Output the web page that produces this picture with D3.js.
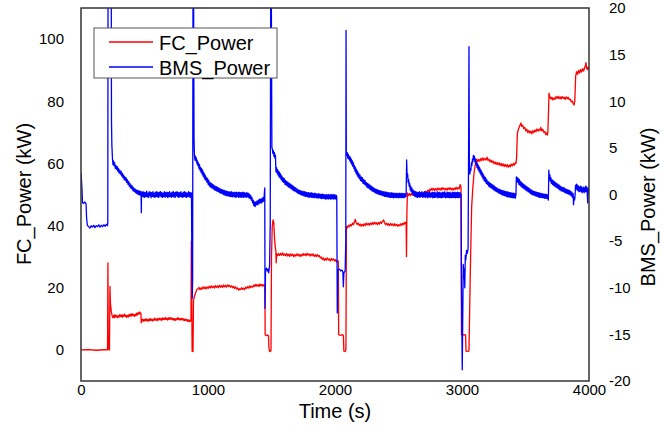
<!DOCTYPE html>
<html><head><meta charset="utf-8">
<script src="https://cdn.jsdelivr.net/npm/d3@7"></script>
<style>body{margin:0;background:#fff}svg{display:block;font-family:Arial,"Liberation Sans",sans-serif}</style>
</head><body><svg id="c" width="665" height="430"></svg>
<script>
const xTicks=[0,1000,2000,3000,4000];
const fcTicks=[0,20,40,60,80,100];
const bmsTicks=[-20,-15,-10,-5,0,5,10,15,20];
const seriesNames=["FC_Power","BMS_Power"];
const seriesColors=["#ff0000","#0000ff"];

// FC_Power [time s, kW]
const fcData=[[0,0],[60,0.1],[120,-0.1],[180,0.05],[209,0],[212,28],[215,0.2],[224,0],[228,20.4],[232,15],[238,12.5],[245,11],
[252,10.3],[258,11.2],[264,10.4],[270,11.3],[276,10.6],[282,11.1],[288,10.3],[294,11.0],[300,10.6],[306,11.4],[312,10.7],[318,11.2],[324,10.5],[330,11.3],[336,10.8],[342,11.5],[348,10.7],[354,11.2],[360,10.5],[366,11.1],[372,10.6],[378,11.4],[384,10.8],[390,11.5],[396,10.9],[402,11.7],[408,11.0],[414,11.4],[420,10.8],[426,11.5],[432,11.0],[438,11.8],[444,11.2],[450,12.0],[456,11.5],[462,12.2],[468,11.6],[472,11.8],[474,8.7],
[478,9.4],[484,9.9],[490,9.2],[496,9.8],[502,9.3],[508,10.0],[514,9.4],[520,9.9],[526,9.2],[532,9.8],[538,9.4],[544,10.1],[550,9.5],[556,9.9],[562,9.3],[568,9.9],[574,9.5],[580,10.2],[586,9.6],[592,10.0],[598,9.4],[604,10.1],[610,9.6],[616,10.2],[622,9.7],[628,10.1],[634,9.5],[640,10.3],[646,9.7],[652,10.2],[658,9.8],[664,10.4],[670,9.8],[676,10.2],[682,9.6],[688,10.3],[694,9.8],[700,10.4],[706,9.9],[712,10.3],[718,9.7],[724,10.2],[730,9.6],[736,10.1],[742,9.5],[748,10.0],[754,9.7],[760,10.4],[766,9.8],[772,10.2],[778,9.6],[784,10.1],[790,9.7],[796,10.2],[802,9.6],[808,10.0],[814,9.4],[820,9.9],[826,9.5],[832,9.8],[838,9.2],[844,9.7],[850,9.1],[856,9.6],[862,9.2],[866,9.6],
[869,35],[872,17],[875,-0.4],[882,-0.5],[886,16],[895,17.5],[905,18.6],[913,19.5],
[921,19.6],[929,20.1],[937,19.4],[945,20.0],[953,19.5],[961,20.3],[969,19.7],[977,20.2],[985,19.6],[993,20.3],[1001,19.8],[1009,20.5],[1017,19.9],[1025,20.6],[1033,20.0],[1041,20.5],[1049,19.9],[1057,20.7],[1065,20.1],[1073,20.6],[1081,20.0],[1089,20.8],[1097,20.2],[1105,20.7],[1113,20.1],[1121,20.9],[1129,20.3],[1137,20.8],[1145,20.2],[1153,20.9],[1161,20.4],[1169,20.8],[1177,20.2],[1185,20.6],[1193,20.0],[1201,20.5],[1209,19.8],[1217,20.3],[1225,19.6],[1233,19.9],[1241,19.2],[1249,19.7],[1257,19.4],[1265,20.0],[1273,19.5],[1281,19.9],[1289,19.4],[1297,20.2],[1305,19.8],[1313,20.4],[1321,19.9],[1329,20.6],[1337,20.0],[1345,20.5],[1353,20.2],[1361,20.9],[1369,20.4],[1377,21.1],[1385,20.5],[1393,21.0],[1401,20.4],[1409,21.2],[1417,20.6],[1425,21.1],[1433,20.5],[1441,21.0],[1448,20.7],
[1450,4.8],[1460,4.6],[1470,4.8],[1476,4.5],[1480,0.5],[1486,-0.5],[1496,-0.3],[1500,30],[1506,40],[1512,41.8],[1518,41],[1524,36],[1530,33],[1534,32],[1537,28],
[1540,31],[1548,30.3],[1556,31.0],[1564,30.4],[1572,31.1],[1580,30.5],[1588,31.2],[1596,30.4],[1604,30.9],[1612,30.3],[1620,31.0],[1628,30.2],[1636,30.8],[1644,30.1],[1652,30.9],[1660,30.3],[1668,30.8],[1676,30.0],[1684,30.7],[1692,30.2],[1700,30.9],[1708,30.3],[1716,30.8],[1724,30.1],[1732,30.7],[1740,30.2],[1748,31.0],[1756,30.4],[1764,30.9],[1772,30.3],[1780,31.1],[1788,30.5],[1796,30.9],[1804,30.2],[1812,30.8],[1820,30.3],[1828,30.9],[1836,30.1],[1844,30.6],[1852,30.0],[1860,30.7],[1868,30.1],[1876,30.4],[1884,29.6],[1892,29.9],[1900,29.1],[1908,29.6],[1916,28.8],[1924,29.4],[1932,28.9],[1940,29.6],[1948,28.9],[1956,29.3],[1964,28.6],[1972,29.4],[1980,28.9],[1988,29.3],[1996,28.6],[2004,29.0],[2012,28.3],[2020,28.8],[2026,28.4],
[2029,4.9],[2045,4.7],[2060,4.9],[2066,4.7],[2070,-0.4],[2080,-0.5],[2086,0],
[2090,39.7],[2098,39.3],[2106,40.1],[2114,39.6],[2122,40.4],[2130,39.9],[2138,40.8],[2146,40.3],[2154,41.3],[2160,42.0],[2166,41.0],[2174,40.4],[2182,40.8],[2190,40.0],[2198,40.5],[2206,39.8],[2214,40.4],[2222,39.9],[2230,40.6],[2238,40.0],[2246,40.8],[2254,40.2],[2262,40.7],[2270,40.1],[2278,40.8],[2286,40.3],[2294,41.0],[2302,40.4],[2310,41.1],[2318,40.5],[2326,40.9],[2334,40.3],[2342,41.0],[2350,40.5],[2358,41.2],[2366,40.7],[2374,41.3],[2383,41.8],[2390,40.9],[2398,40.3],[2406,40.8],[2414,40.1],[2422,40.6],[2430,40.0],[2438,40.7],[2446,40.1],[2454,40.5],[2462,39.9],[2470,40.6],[2478,40.0],[2486,40.4],[2494,39.8],[2502,40.3],[2510,39.9],[2518,40.6],[2526,40.1],[2534,40.8],[2542,40.3],[2550,41.1],[2556,40.6],[2560,41.0],
[2563,30],[2566,44],
[2570,50.5],[2578,49.6],[2586,50.3],[2594,49.7],[2602,50.4],[2610,49.8],[2618,50.5],[2626,49.9],[2634,50.3],[2642,49.7],[2650,50.4],[2658,49.9],[2666,50.6],[2674,50.0],[2682,50.5],[2690,50.0],[2698,50.7],[2706,50.3],[2714,51.0],[2722,50.6],[2730,51.4],[2738,51.0],[2746,51.7],[2754,51.3],[2762,52.0],[2770,51.4],[2778,52.0],[2786,51.3],[2794,51.9],[2802,51.4],[2810,52.1],[2818,51.5],[2826,52.0],[2834,51.4],[2842,52.2],[2850,51.6],[2858,52.1],[2866,51.5],[2874,52.0],[2882,51.4],[2890,52.1],[2898,51.6],[2906,52.2],[2914,51.5],[2922,52.0],[2930,51.4],[2938,52.1],[2946,51.6],[2954,52.3],[2962,51.7],[2970,52.2],[2978,51.8],[2985,53.2],[2992,52.5],
[2996,4.8],[3015,4.9],[3028,4.8],[3032,-0.4],[3045,-0.5],[3055,-0.3],[3060,12],[3066,26],[3076,46],[3085,52],[3095,57],
[3108,60.6],[3116,61.4],[3124,60.5],[3132,61.3],[3140,60.7],[3148,61.6],[3156,60.9],[3164,61.8],[3172,61.0],[3180,61.6],[3188,61.1],[3197,62.0],[3204,61.0],[3212,61.4],[3220,60.5],[3228,61.1],[3236,60.3],[3244,60.8],[3252,59.9],[3260,60.5],[3268,59.7],[3276,60.3],[3284,59.6],[3292,60.2],[3300,59.3],[3308,60.0],[3316,59.2],[3324,59.9],[3332,59.0],[3340,59.7],[3348,58.9],[3356,59.6],[3364,58.8],[3372,59.5],[3380,58.9],[3388,59.8],[3396,59.2],[3404,60.0],[3412,59.4],[3420,60.2],[3425,60.0],
[3430,62],[3436,69.7],[3444,71.0],[3452,71.8],[3460,72.6],[3464,73.0],[3470,71.9],[3478,72.3],[3486,71.2],[3494,71.6],[3502,70.5],[3510,71.0],[3518,69.9],[3526,70.6],[3534,69.8],[3542,70.4],[3550,69.5],[3558,70.5],[3566,69.9],[3574,70.8],[3582,70.2],[3590,71.1],[3598,70.4],[3606,71.0],[3614,70.6],[3620,71.6],[3628,70.5],[3636,71.0],[3644,70.0],[3652,70.3],[3660,69.3],[3666,69.8],[3672,69.1],[3676,70.0],
[3680,75],[3685,82.6],[3692,81.4],[3700,80.7],[3708,81.3],[3716,80.4],[3724,81.1],[3732,80.6],[3740,81.5],[3748,80.9],[3756,81.6],[3764,80.8],[3772,81.4],[3780,80.7],[3788,81.5],[3796,80.9],[3804,81.3],[3812,80.6],[3820,81.4],[3828,80.8],[3836,81.3],[3844,80.5],[3852,80.7],[3860,79.8],[3868,80.1],[3876,79.2],[3882,78.8],[3888,80],
[3895,88],[3902,89.5],[3910,88.7],[3918,89.9],[3926,89.1],[3934,90.2],[3942,89.4],[3950,90.5],[3958,89.7],[3966,90.8],[3972,91.5],[3976,92.4],[3980,90.9],[3986,90.2],[3992,91.0],[4000,90.2]];

// BMS_Power [time s, kW]
const bmsData=[[0,2.3],[4,1.5],[8,0.5],[12,-0.9],[20,-0.95],[30,-0.8],[40,-1.0],[44,-2.5],[50,-3.3],[60,-3.45],[70,-3.6],[80,-3.35],[90,-3.5],[100,-3.3],[110,-3.55],[120,-3.35],[130,-3.45],[140,-3.25],[150,-3.5],[160,-3.3],[170,-3.45],[180,-3.25],[190,-3.4],[200,-3.2],[208,-3.35],[211,-3.0],[213,24],[238,24],
[240,8.0],[243,5.3],[248,3.8],[252,3.2],[256,3.6],[260,3.1],[265,3.4],[270,2.8],[275,3.1],[280,2.7],[285,3.0],[290,2.5],[295,2.8],[300,2.3],[305,2.6],[310,2.2],[315,2.5],[320,2.0],[325,2.3],[330,1.8],[335,2.1],[340,1.6],[345,1.9],[350,1.5],[355,1.8],[360,1.3],[365,1.6],[370,1.1],[375,1.4],[380,0.9],[385,1.2],[390,0.7],[395,1.0],[400,0.6],[405,0.9],[410,0.4],[415,0.7],[420,0.3],[425,0.6],[430,0.2],[435,0.5],[440,0.1],[445,0.45],[450,0.0],[455,0.4],[460,-0.05],[465,0.35],[470,-0.1],[473,0.3],[475,-1.95],
[477,0.2],[482,-0.2],[487,0.3],[492,-0.25],[497,0.25],[502,-0.3],[507,0.2],[512,-0.2],[517,0.35],[522,-0.25],[527,0.15],[532,-0.3],[537,0.3],[542,-0.15],[547,0.25],[552,-0.35],[557,0.2],[562,-0.2],[567,0.3],[572,-0.25],[577,0.15],[582,-0.3],[587,0.25],[592,-0.2],[597,0.3],[602,-0.25],[607,0.2],[612,-0.3],[617,0.25],[622,-0.15],[627,0.3],[632,-0.25],[637,0.2],[642,-0.3],[647,0.15],[652,-0.2],[657,0.3],[662,-0.3],[667,0.2],[672,-0.2],[677,0.25],[682,-0.3],[687,0.2],[692,-0.25],[697,0.3],[702,-0.2],[707,0.15],[712,-0.3],[717,0.25],[722,-0.2],[727,0.3],[732,-0.25],[737,0.2],[742,-0.3],[747,0.25],[752,-0.15],[757,0.3],[762,-0.25],[767,0.2],[772,-0.3],[777,0.2],[782,-0.2],[787,0.3],[792,-0.25],[797,0.15],[802,-0.3],[807,0.25],[812,-0.2],[817,0.3],[822,-0.25],[827,0.2],[832,-0.3],[837,0.15],[842,-0.2],[847,0.3],[852,-0.25],[857,0.2],[862,-0.3],[867,0.2],[870,0.1],
[872,-5],[876,-11.1],[879,-9],[882,24],[886,24],[890,6],
[893,4.3],[897,3.7],[901,4.1],[905,3.6],[909,3.9],[913,3.3],[917,3.6],[921,3.1],[925,3.4],[929,2.8],[933,3.2],[937,2.6],[941,2.9],[945,2.4],[949,2.8],[953,2.2],[957,2.6],[961,2.0],[965,2.4],[969,1.8],[973,2.2],[977,1.6],[981,2.0],[985,1.5],[989,1.8],[993,1.3],[997,1.7],[1001,1.1],[1006,1.5],[1011,0.9],[1016,1.3],[1021,0.8],[1026,1.2],[1031,0.7],[1036,1.1],[1041,0.6],[1046,1.0],[1051,0.5],[1056,0.9],[1061,0.45],[1066,0.85],[1071,0.35],[1076,0.75],[1081,0.3],[1086,0.7],[1091,0.2],[1096,0.6],[1101,0.15],[1106,0.55],[1111,0.1],[1116,0.5],[1121,0.0],[1126,0.45],[1131,-0.05],[1136,0.4],[1141,-0.1],[1146,0.35],[1151,-0.15],[1156,0.3],[1161,-0.15],[1166,0.3],[1171,-0.2],[1176,0.25],[1181,-0.2],[1186,0.3],[1191,-0.25],[1196,0.2],[1201,-0.2],[1206,0.25],[1211,-0.25],[1216,0.2],[1221,-0.3],[1226,0.25],[1231,-0.2],[1236,0.2],[1241,-0.3],[1246,0.25],[1251,-0.25],[1256,0.2],[1261,-0.3],[1266,0.2],[1271,-0.25],[1276,0.25],[1281,-0.3],[1286,0.2],[1291,-0.25],[1296,0.15],[1301,-0.3],[1306,0.2],[1311,-0.25],[1316,0.15],[1321,-0.35],[1326,0.05],[1331,-0.45],[1336,-0.1],[1341,-0.6],[1346,-0.3],[1351,-0.9],[1356,-0.6],[1361,-1.2],[1366,-0.8],[1371,-1.3],[1376,-0.8],[1381,-1.1],[1386,-0.7],[1391,-1.1],[1396,-0.6],[1401,-1.0],[1406,-0.5],[1411,-0.9],[1416,-0.5],[1421,-0.9],[1426,-0.4],[1431,-0.8],[1436,-0.3],[1441,-0.7],[1444,0.2],[1447,0.7],
[1449,-12.2],[1453,-8.1],[1460,-7.9],[1467,-8.2],[1472,-8.0],[1478,-8.4],[1485,-7.6],[1490,-3],[1494,24],[1498,24],
[1503,5],[1507,4.9],[1511,4.4],[1515,4.7],[1519,4.1],[1523,4.5],[1527,3.9],[1531,4.2],[1535,2.45],[1539,2.9],[1543,2.3],[1547,2.7],[1551,2.1],[1555,2.5],[1559,1.9],[1563,2.4],[1567,1.8],[1571,2.2],[1576,1.6],[1581,2.0],[1586,1.4],[1591,1.8],[1596,1.3],[1601,1.7],[1606,1.1],[1611,1.5],[1616,1.0],[1621,1.4],[1626,0.9],[1631,1.3],[1636,0.8],[1641,1.2],[1646,0.7],[1651,1.1],[1656,0.6],[1661,1.0],[1666,0.5],[1671,0.9],[1676,0.4],[1681,0.8],[1686,0.35],[1691,0.7],[1696,0.25],[1701,0.6],[1706,0.15],[1711,0.5],[1716,0.1],[1721,0.45],[1726,0.0],[1731,0.4],[1736,-0.05],[1741,0.35],[1746,-0.1],[1751,0.3],[1756,-0.15],[1761,0.3],[1766,-0.2],[1771,0.25],[1776,-0.2],[1781,0.2],[1786,-0.25],[1791,0.2],[1796,-0.3],[1801,0.15],[1806,-0.25],[1811,0.2],[1816,-0.3],[1821,0.15],[1826,-0.3],[1831,0.1],[1836,-0.35],[1841,0.15],[1846,-0.3],[1851,0.1],[1856,-0.35],[1861,0.05],[1866,-0.4],[1871,0.1],[1876,-0.35],[1881,0.05],[1886,-0.4],[1891,0.0],[1896,-0.45],[1901,0.05],[1906,-0.4],[1911,0.0],[1916,-0.45],[1921,-0.05],[1926,-0.5],[1931,0.0],[1936,-0.45],[1941,-0.05],[1946,-0.5],[1951,0.0],[1956,-0.45],[1961,-0.05],[1966,-0.5],[1971,0.0],[1976,-0.45],[1981,-0.05],[1986,-0.5],[1991,0.0],[1996,-0.45],[2001,-0.05],[2006,-0.5],[2011,-0.1],[2014,-0.3],
[2018,-12.7],[2022,-8.1],[2035,-8.0],[2045,-8.2],[2055,-8.1],[2062,-8.3],[2066,-9.9],[2070,-8.4],[2080,-8.2],[2085,-5],[2087,17.6],
[2089,4.6],[2093,4.2],[2097,4.5],[2101,3.9],[2105,4.3],[2109,3.8],[2113,4.1],[2117,3.6],[2121,4.0],[2125,3.4],[2129,3.8],[2133,3.2],[2137,3.6],[2141,3.0],[2145,3.4],[2149,2.8],[2153,3.1],[2157,2.5],[2161,2.9],[2165,2.3],[2169,2.7],[2173,2.1],[2177,2.5],[2181,1.9],[2186,2.3],[2191,1.7],[2196,2.1],[2201,1.5],[2206,1.9],[2211,1.4],[2216,1.8],[2221,1.2],[2226,1.6],[2231,1.1],[2236,1.5],[2241,1.0],[2246,1.3],[2251,0.8],[2256,1.2],[2261,0.7],[2266,1.1],[2271,0.6],[2276,1.0],[2281,0.5],[2286,0.9],[2291,0.4],[2296,0.8],[2301,0.3],[2306,0.7],[2311,0.25],[2316,0.6],[2321,0.15],[2326,0.55],[2331,0.1],[2336,0.5],[2341,0.05],[2346,0.45],[2351,0.0],[2356,0.4],[2361,-0.05],[2366,0.35],[2371,-0.1],[2376,0.3],[2381,-0.15],[2386,0.3],[2391,-0.2],[2396,0.25],[2401,-0.2],[2406,0.25],[2411,-0.25],[2416,0.2],[2421,-0.25],[2426,0.2],[2431,-0.3],[2436,0.15],[2441,-0.3],[2446,0.2],[2451,-0.3],[2456,0.15],[2461,-0.35],[2466,0.15],[2471,-0.3],[2476,0.1],[2481,-0.35],[2486,0.15],[2491,-0.3],[2496,0.1],[2501,-0.35],[2506,0.15],[2511,-0.3],[2516,0.1],[2521,-0.35],[2526,0.15],[2531,-0.3],[2536,0.1],[2541,-0.35],[2546,0.1],[2551,-0.3],[2556,0.1],[2560,-0.2],
[2564,3.7],[2568,1.9],[2572,2.2],[2576,1.3],[2580,1.6],[2584,0.9],[2588,1.2],[2592,0.5],[2596,0.9],[2600,0.3],[2605,0.7],[2610,0.1],[2615,0.5],[2620,-0.1],[2625,0.35],
[2630,-0.2],[2635,0.3],[2640,-0.25],[2645,0.25],[2650,-0.3],[2655,0.2],[2660,-0.25],[2665,0.3],[2670,-0.3],[2675,0.2],[2680,-0.2],[2685,0.3],[2690,-0.3],[2695,0.15],[2700,-0.25],[2705,0.3],[2710,-0.3],[2715,0.2],[2720,-0.25],[2725,0.25],[2730,-0.35],[2735,0.2],[2740,-0.25],[2745,0.3],[2750,-0.3],[2755,0.15],[2760,-0.25],[2765,0.25],[2770,-0.35],[2775,0.2],[2780,-0.3],[2785,0.25],[2790,-0.3],[2795,0.15],[2800,-0.25],[2805,0.3],[2810,-0.35],[2815,0.2],[2820,-0.3],[2825,0.25],[2830,-0.3],[2835,0.15],[2840,-0.35],[2845,0.25],[2850,-0.3],[2855,0.2],[2860,-0.25],[2865,0.3],[2870,-0.35],[2875,0.15],[2880,-0.3],[2885,0.25],[2890,-0.3],[2895,0.2],[2900,-0.35],[2905,0.25],[2910,-0.3],[2915,0.15],[2920,-0.35],[2925,0.25],[2930,-0.3],[2935,0.2],[2940,-0.3],[2945,0.25],[2950,-0.35],[2955,0.2],[2960,-0.3],[2965,0.25],[2970,-0.35],[2975,0.2],[2980,-0.3],[2985,0.2],[2990,-0.25],[2993,0.0],
[2996,-10],[3002,-18.8],[3006,-13],[3010,-7.5],[3014,-9],[3018,-8],[3022,-10],[3026,-6.5],[3030,-7],[3036,-6],[3042,-6.3],[3048,-5.8],[3052,5],[3055,15.85],
[3058,3.0],[3062,2.2],[3066,2.8],[3070,2.6],[3074,3.4],[3078,3.1],[3082,3.8],[3086,3.5],[3090,4.2],[3094,3.8],[3098,4.1],[3102,3.5],[3106,3.8],[3110,3.2],[3114,3.5],[3118,2.9],[3122,3.3],[3126,2.7],[3130,3.1],[3134,2.5],[3138,2.9],[3142,2.3],[3146,2.7],[3150,2.1],[3154,2.5],[3158,1.9],[3162,2.3],[3166,1.7],[3170,2.1],[3174,1.5],[3178,1.9],[3182,1.4],[3186,1.8],[3190,1.2],[3195,1.6],[3200,1.1],[3205,1.4],[3210,0.9],[3215,1.3],[3220,0.8],[3225,1.2],[3230,0.7],[3235,1.1],[3240,0.6],[3245,1.0],[3250,0.5],[3255,0.9],[3260,0.4],[3265,0.8],[3270,0.3],[3275,0.7],[3280,0.25],[3285,0.6],[3290,0.15],[3295,0.55],[3300,0.1],[3305,0.5],[3310,0.0],[3315,0.45],[3320,-0.05],[3325,0.4],[3330,-0.1],[3335,0.35],[3340,-0.15],[3345,0.3],[3350,-0.2],[3355,0.3],[3360,-0.25],[3365,0.25],[3370,-0.25],[3375,0.2],[3380,-0.3],[3385,0.2],[3390,-0.3],[3395,0.15],[3400,-0.35],[3405,0.15],[3410,-0.35],[3415,0.1],[3420,-0.4],[3425,0.0],
[3428,1.9],[3432,1.4],[3436,1.8],[3440,1.3],[3444,1.7],[3448,1.1],[3452,1.6],[3456,1.0],[3460,1.4],[3464,0.9],[3468,1.3],[3472,0.8],[3476,1.2],[3480,0.7],[3485,1.1],[3490,0.6],[3495,1.0],[3500,0.5],[3505,0.9],[3510,0.4],[3515,0.8],[3520,0.3],[3525,0.7],[3530,0.2],[3535,0.6],[3540,0.1],[3545,0.5],[3550,0.0],[3555,0.4],[3560,-0.05],[3565,0.35],[3570,-0.1],[3575,0.3],[3580,-0.15],[3585,0.25],[3590,-0.2],[3595,0.2],[3600,-0.25],[3605,0.2],[3610,-0.3],[3615,0.15],[3620,-0.3],[3625,0.1],[3630,-0.35],[3635,0.1],[3640,-0.35],[3645,0.05],[3650,-0.4],[3655,0.05],[3660,-0.4],[3665,0.0],[3670,-0.45],[3675,-0.05],[3680,-0.6],
[3684,2.6],[3688,1.6],[3692,2.1],[3696,1.4],[3700,1.8],[3704,1.2],[3708,1.6],[3712,1.1],[3716,1.5],[3720,1.0],[3725,1.4],[3730,0.9],[3735,1.3],[3740,0.8],[3745,1.2],[3750,0.7],[3755,1.1],[3760,0.6],[3765,1.0],[3770,0.5],[3775,0.9],[3780,0.4],[3785,0.8],[3790,0.35],[3795,0.75],[3800,0.3],[3805,0.7],[3810,0.2],[3815,0.6],[3820,0.15],[3825,0.55],[3830,0.1],[3835,0.5],[3840,0.05],[3845,0.45],[3850,-0.05],[3855,0.35],[3860,-0.15],[3865,0.25],[3870,-0.3],[3875,0.1],[3878,-1.1],[3882,-0.3],[3886,-0.6],[3890,-0.2],
[3894,1.0],[3898,0.6],[3902,1.1],[3906,0.5],[3910,1.0],[3914,0.4],[3918,0.9],[3922,0.3],[3926,0.8],[3930,0.4],[3934,0.9],[3938,0.3],[3942,0.8],[3946,0.2],[3950,0.7],[3954,0.3],[3958,0.8],[3962,0.2],[3966,0.7],[3970,0.3],[3974,0.9],[3978,0.3],[3982,0.8],[3986,0.2],[3990,-0.9],[3994,0.7],[3997,0.2],[4000,0.6]];

const svg=d3.select("#c");
const L=81,R=589,T=8,B=381;
const x=d3.scaleLinear().domain([0,4000]).range([L,R]);
const yL=d3.scaleLinear().domain([-10,110]).range([B,T]);
const yR=d3.scaleLinear().domain([-20,20]).range([B,T]);

svg.append("defs").append("clipPath").attr("id","pc").append("rect")
  .attr("x",L).attr("y",T).attr("width",R-L).attr("height",B-T);

const g=svg.append("g").attr("clip-path","url(#pc)");
const lineFC=d3.line().x(d=>x(d[0])).y(d=>yL(d[1]));
const lineBMS=d3.line().x(d=>x(d[0])).y(d=>yR(d[1]));
g.append("path").attr("d",lineFC(fcData)).attr("fill","none").attr("stroke",seriesColors[0]).attr("stroke-width",1.3).attr("stroke-linejoin","round");
g.append("path").attr("d",lineBMS(bmsData)).attr("fill","none").attr("stroke",seriesColors[1]).attr("stroke-width",1.3).attr("stroke-linejoin","round");

function styleAxis(sel){
  sel.select(".domain").remove();
  sel.selectAll("text").attr("font-size",15).attr("fill","#000").attr("font-family","Arial, 'Liberation Sans', sans-serif");
}
svg.append("g").attr("transform",`translate(0,${B})`)
  .call(d3.axisBottom(x).tickValues(xTicks).tickSize(0).tickPadding(3).tickFormat(d3.format("d"))).call(styleAxis);
svg.append("g").attr("transform",`translate(${L},0)`)
  .call(d3.axisLeft(yL).tickValues(fcTicks).tickSize(0).tickPadding(17).tickFormat(d3.format("d"))).call(styleAxis);
svg.append("g").attr("transform",`translate(${R},0)`)
  .call(d3.axisRight(yR).tickValues(bmsTicks).tickSize(0).tickPadding(20).tickFormat(d=>d3.format("d")(d).replace("−","-"))).call(styleAxis);

svg.append("rect").attr("x",L).attr("y",T).attr("width",R-L).attr("height",B-T)
  .attr("fill","none").attr("stroke","#333").attr("stroke-width",1.5);

svg.append("text").attr("x",(L+R)/2).attr("y",418).attr("text-anchor","middle").attr("font-size",20).text("Time (s)");
svg.append("text").attr("transform","translate(31,194) rotate(-90)").attr("text-anchor","middle").attr("font-size",20).text("FC_Power (kW)");
svg.append("text").attr("transform","translate(655,207) rotate(-90)").attr("text-anchor","middle").attr("font-size",20).text("BMS_Power (kW)");

const lg=svg.append("g");
lg.append("rect").attr("x",94).attr("y",28).attr("width",183).attr("height",50).attr("fill","#fff").attr("stroke","#555").attr("stroke-width",1);
seriesNames.forEach((n,i)=>{
  const yy=42+i*25;
  lg.append("line").attr("x1",109).attr("x2",153).attr("y1",yy).attr("y2",yy).attr("stroke",seriesColors[i]).attr("stroke-width",1.3);
  lg.append("text").attr("x",159).attr("y",yy+7.5).attr("font-size",20).text(n);
});
</script></body></html>
